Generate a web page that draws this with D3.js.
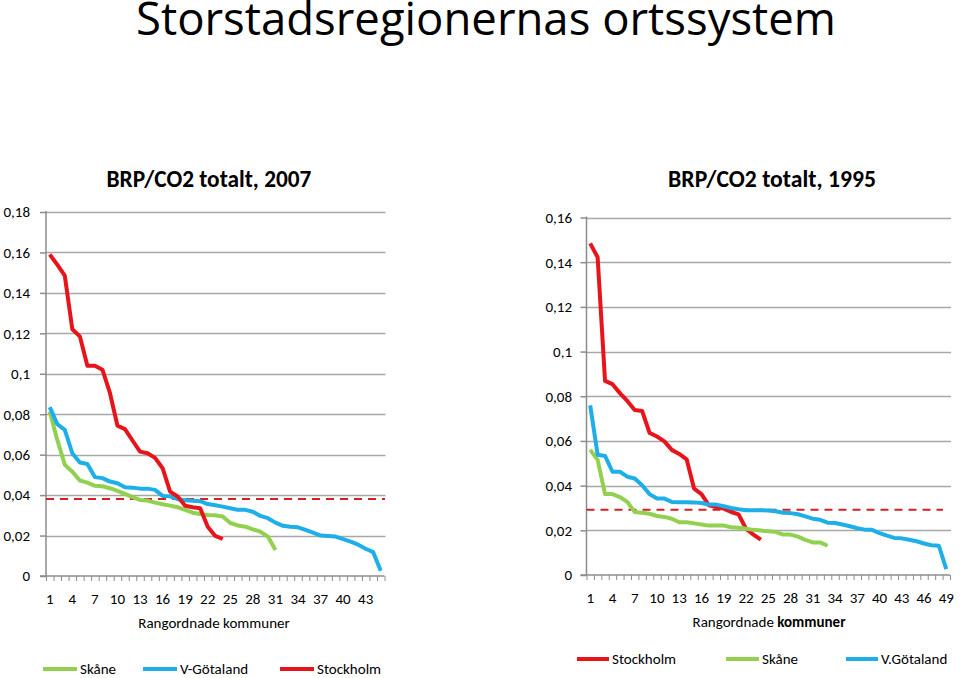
<!DOCTYPE html>
<html><head><meta charset="utf-8">
<script src="https://cdn.jsdelivr.net/npm/d3@7"></script>
<style>
body{margin:0;background:#fff}
svg{display:block}
text{font-family:Carlito,Lato,"Open Sans",sans-serif;fill:#000}
</style>
</head><body>
<svg id="c" width="960" height="678"></svg>
<script>
// ---------- DATA ----------
const mainTitle = "Storstadsregionernas ortssystem";
const title2007 = "BRP/CO2 totalt, 2007";
const title1995 = "BRP/CO2 totalt, 1995";
const axisTitle = "Rangordnade";
const axisTitle2 = "kommuner";

const cats2007 = d3.range(1, 46);
const cats1995 = d3.range(1, 50);
const yTicks2007 = [0, 0.02, 0.04, 0.06, 0.08, 0.1, 0.12, 0.14, 0.16, 0.18];
const yTicks1995 = [0, 0.02, 0.04, 0.06, 0.08, 0.1, 0.12, 0.14, 0.16];

const skane2007 = [0.0813,0.0673,0.055,0.0516,0.0472,0.0462,0.0446,0.0444,0.0434,0.0421,
  0.0406,0.039,0.0376,0.0373,0.0363,0.0355,0.0348,0.034,0.0327,0.0313,
  0.0307,0.0302,0.03,0.0294,0.0262,0.025,0.0244,0.0231,0.0219,0.0195,0.0129];
const vgotaland2007 = [0.0835,0.0751,0.0723,0.0607,0.0561,0.0554,0.0489,0.0484,0.0467,0.0459,
  0.0439,0.0437,0.0432,0.0432,0.0426,0.0396,0.0394,0.038,0.0375,0.0372,
  0.037,0.0356,0.035,0.0343,0.0335,0.0327,0.0327,0.0318,0.0297,0.0286,
  0.0264,0.0248,0.0244,0.0241,0.0228,0.0214,0.02,0.0198,0.0195,0.0182,
  0.017,0.0155,0.0135,0.0118,0.0026];
const stockholm2007 = [0.159,0.154,0.1485,0.122,0.1185,0.104,0.104,0.102,0.0905,0.0743,
  0.0726,0.067,0.0615,0.0607,0.0584,0.0533,0.0417,0.0393,0.0347,0.034,
  0.0335,0.0244,0.0198,0.0183];
const avg2007 = 0.0381;

const stockholm1995 = [0.1484,0.1422,0.0869,0.0854,0.0814,0.0779,0.0738,0.0734,0.0636,0.062,
  0.0598,0.056,0.0542,0.0518,0.0387,0.0362,0.0312,0.0304,0.0297,0.0282,
  0.0271,0.0207,0.0181,0.0158];
const skane1995 = [0.056,0.0515,0.0362,0.0362,0.0349,0.0327,0.0282,0.0279,0.0274,0.0264,
  0.026,0.0252,0.0236,0.0236,0.0231,0.0226,0.0221,0.0221,0.0221,0.0214,
  0.0211,0.0207,0.0202,0.0199,0.0196,0.0193,0.0181,0.0181,0.0172,0.0157,
  0.0146,0.0146,0.0131];
const vgotaland1995 = [0.0759,0.0538,0.0533,0.0462,0.0462,0.044,0.0432,0.0402,0.0362,0.0342,
  0.0342,0.0327,0.0326,0.0326,0.0325,0.0322,0.0315,0.0315,0.0308,0.03,
  0.0294,0.029,0.029,0.029,0.0289,0.0285,0.0279,0.0277,0.0272,0.0262,
  0.0252,0.0247,0.0234,0.0233,0.0226,0.0218,0.0209,0.0203,0.0202,0.0187,
  0.0176,0.0166,0.0164,0.0158,0.0151,0.0141,0.0133,0.0131,0.0026];
const avg1995 = 0.0292;

const legend2007 = ["Skåne", "V-Götaland", "Stockholm"];
const legend1995 = ["Stockholm", "Skåne", "V.Götaland"];

// ---------- STYLE ----------
const C = {green:"#92D050", blue:"#1EAEE8", red:"#E8141B", dash:"#D42020", grid:"#A8A8A8", axis:"#8C8C8C"};
const svg = d3.select("#c");
const fmt = d => d === 0 ? "0" : String(+d.toFixed(2)).replace(".", ",");

function fitText(sel, target) {
  let fs = parseFloat(sel.style("font-size"));
  const w = sel.node().getComputedTextLength();
  sel.style("font-size", (fs * target / w).toFixed(2) + "px");
}

function drawChart(o) {
  const g = svg.append("g");
  const x = d3.scaleBand().domain(o.cats).range([o.x0, o.x1]).padding(0);
  const xl = d3.scaleLinear().domain([0, o.cats.length]).range([o.x0, o.x1]);
  const y = d3.scaleLinear().domain([0, o.ymax]).range([o.y0, o.y1]);
  const cx = c => x(c) + x.bandwidth() / 2;

  // gridlines
  g.append("g").selectAll("line").data(o.yTicks.filter(d => d > 0)).join("line")
    .attr("x1", o.x0).attr("x2", o.x1 + 1)
    .attr("y1", d => Math.round(y(d)) + 0.5).attr("y2", d => Math.round(y(d)) + 0.5)
    .attr("stroke", C.grid).attr("stroke-width", 1.5);

  // y axis
  const ya = g.append("g").attr("transform", `translate(${o.x0},0)`)
    .call(d3.axisLeft(y).tickValues(o.yTicks).tickSize(6).tickPadding(o.yPad).tickFormat(fmt));
  ya.select(".domain").attr("stroke", C.axis).attr("stroke-width", 1.5).attr("d", `M0,${o.y0}V${o.y1 - 1}`);
  ya.selectAll(".tick line").attr("stroke", C.axis).attr("stroke-width", 1.5);
  ya.selectAll(".tick text").style("font-size", "15px").attr("font-family", null);

  // x axis boundary ticks
  const xa = g.append("g").attr("transform", `translate(0,${o.y0})`)
    .call(d3.axisBottom(xl).tickValues(d3.range(0, o.cats.length + 1)).tickSize(5).tickFormat(""));
  xa.select(".domain").attr("stroke", C.axis).attr("stroke-width", 1.5).attr("d", `M${o.x0 - 6},0H${o.x1}`);
  xa.selectAll(".tick line").attr("stroke", C.axis).attr("stroke-width", 1);

  // x labels every third category
  g.append("g").selectAll("text").data(o.cats.filter((d, i) => i % 3 === 0)).join("text")
    .attr("x", d => cx(d)).attr("y", o.labY).attr("text-anchor", "middle")
    .style("font-size", "15px").text(d => d);

  // axis title
  const at = g.append("text").attr("x", o.atX).attr("y", o.atY).attr("text-anchor", "middle")
    .style("font-size", "15px");
  at.append("tspan").text(axisTitle + " ");
  at.append("tspan").style("font-weight", o.boldK ? "bold" : "normal").text(axisTitle2);

  // chart title
  const t = g.append("text").attr("x", o.tX).attr("y", o.tY).attr("text-anchor", "middle")
    .style("font-size", "22px").style("font-weight", "bold").text(o.title);
  fitText(t, o.tW);

  // average dashed line
  g.append("line").attr("x1", o.x0).attr("x2", o.dashX1)
    .attr("y1", y(o.avg)).attr("y2", y(o.avg))
    .attr("stroke", C.dash).attr("stroke-width", 2).attr("stroke-dasharray", "8,6");

  // series
  const line = d3.line().x((d, i) => cx(o.cats[i])).y(d => y(d));
  o.series.forEach(s => {
    g.append("path").datum(s.values).attr("d", line)
      .attr("fill", "none").attr("stroke", s.color).attr("stroke-width", 4)
      .attr("stroke-linejoin", "round").attr("stroke-linecap", "butt");
  });

  // legend
  o.legend.forEach((l, i) => {
    const p = o.legPos[i];
    g.append("line").attr("x1", p[0]).attr("x2", p[1]).attr("y1", o.legY).attr("y2", o.legY)
      .attr("stroke", l.color).attr("stroke-width", 4);
    g.append("text").attr("x", p[1] + 3).attr("y", o.legY + 5).style("font-size", "15px").text(l.name);
  });
}

// main title
const mt = svg.append("text").attr("x", 136).attr("y", 35)
  .style("font-family", "'Open Sans', sans-serif").style("font-size", "42px").text(mainTitle);
fitText(mt, 700);

drawChart({
  cats: cats2007, yTicks: yTicks2007, ymax: 0.18,
  x0: 46, x1: 384.5, y0: 576, y1: 212, yPad: 10,
  labY: 604, atX: 214, atY: 628, boldK: false,
  title: title2007, tX: 209, tY: 187, tW: 205,
  avg: avg2007, dashX1: 385,
  series: [
    {values: skane2007, color: C.green},
    {values: vgotaland2007, color: C.blue},
    {values: stockholm2007, color: C.red}
  ],
  legend: [
    {name: legend2007[0], color: C.green},
    {name: legend2007[1], color: C.blue},
    {name: legend2007[2], color: C.red}
  ],
  legPos: [[43, 77], [143, 177], [280, 314]], legY: 669
});

drawChart({
  cats: cats1995, yTicks: yTicks1995, ymax: 0.16,
  x0: 586.5, x1: 950, y0: 575, y1: 217.5, yPad: 8.5,
  labY: 603, atX: 769, atY: 627, boldK: true,
  title: title1995, tX: 772, tY: 187, tW: 208,
  avg: avg1995, dashX1: 943,
  series: [
    {values: stockholm1995, color: C.red},
    {values: skane1995, color: C.green},
    {values: vgotaland1995, color: C.blue}
  ],
  legend: [
    {name: legend1995[0], color: C.red},
    {name: legend1995[1], color: C.green},
    {name: legend1995[2], color: C.blue}
  ],
  legPos: [[577, 609], [726, 759], [846, 878]], legY: 659
});
</script>
</body></html>
